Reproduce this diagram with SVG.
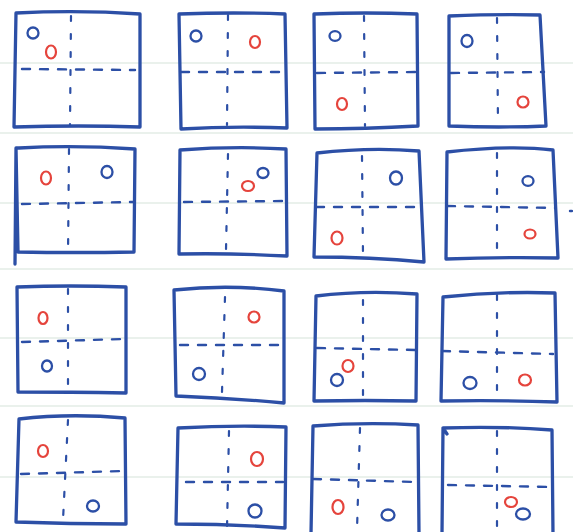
<svg xmlns="http://www.w3.org/2000/svg" width="573" height="532" viewBox="0 0 573 532">
<style>
.rule{stroke:#d6e3da;stroke-width:1.2}
.box{fill:none;stroke:#2c4fa6;stroke-width:3.3;stroke-linecap:round;stroke-linejoin:round}
.dh{fill:none;stroke:#2c4fa6;stroke-width:2.4;stroke-linecap:round;stroke-dasharray:8 10}
.dv{fill:none;stroke:#2c4fa6;stroke-width:2.2;stroke-linecap:round;stroke-dasharray:5 13}
.b{fill:none;stroke:#2c4fa6;stroke-width:2.3}
.r{fill:none;stroke:#e5443c;stroke-width:2.2}
</style>
<rect width="573" height="532" fill="#ffffff"/>
<g id="rules">
<line class="rule" x1="0" y1="63" x2="573" y2="63"/>
<line class="rule" x1="0" y1="133" x2="573" y2="133"/>
<line class="rule" x1="0" y1="203" x2="573" y2="203"/>
<line class="rule" x1="0" y1="269" x2="573" y2="269"/>
<line class="rule" x1="0" y1="338" x2="573" y2="338"/>
<line class="rule" x1="0" y1="406" x2="573" y2="406"/>
<line class="rule" x1="0" y1="477" x2="573" y2="477"/>
</g>
<g id="connectors"></g>

<g id="p1">
<path class="box" d="M16 13 Q80 10 140 14 L140 127 Q80 125 14 127 L16 13 Z"/>
<path class="dh" d="M22 69 L135 70"/>
<path class="dv" d="M71 16 L70 125"/>
<circle class="b" cx="33" cy="33" r="5.5"/>
<ellipse class="r" cx="51" cy="52" rx="5" ry="6.5"/>
</g>
<g id="p2">
<path class="box" d="M179 14 Q235 12 285 14 L287 128 Q232 126 181 129 L179 14 Z"/>
<path class="dh" d="M181 72 L284 72"/>
<path class="dv" d="M228 15 L227 125"/>
<circle class="b" cx="196" cy="36" r="5.5"/>
<ellipse class="r" cx="255" cy="42" rx="5" ry="6"/>
</g>
<g id="p3">
<path class="box" d="M315 14 Q365 12 417 14 L418 126 Q365 129 315 129 L314 14 Z"/>
<path class="dh" d="M317 73 L416 72"/>
<path class="dv" d="M364 16 L365 126"/>
<ellipse class="b" cx="335" cy="36" rx="5.5" ry="4.8"/>
<ellipse class="r" cx="342" cy="104" rx="5" ry="6"/>
</g>
<g id="p4">
<path class="box" d="M449 16 Q500 14 540 15 L546 126 Q500 128 449 126 L449 16 Z"/>
<path class="dh" d="M451 73 L544 72"/>
<path class="dv" d="M497 18 L498 124"/>
<ellipse class="b" cx="467" cy="41" rx="5.5" ry="6"/>
<ellipse class="r" cx="523" cy="102" rx="5.5" ry="5.5"/>
</g>

<g id="p5">
<path class="box" d="M19 148 Q75 145 135 149 L134 252 Q75 253 18 252 L16 148 Z M16 148 L15 264"/>
<path class="dh" d="M22 204 L134 202"/>
<path class="dv" d="M69 149 L68 255"/>
<ellipse class="r" cx="46" cy="178" rx="5" ry="6.5"/>
<ellipse class="b" cx="107" cy="172" rx="5.5" ry="6"/>
</g>
<g id="p6">
<path class="box" d="M180 150 Q235 146 286 149 L287 256 Q232 253 179 254 L180 150 Z"/>
<path class="dh" d="M184 202 L285 201"/>
<path class="dv" d="M228 154 L226 250"/>
<ellipse class="b" cx="263" cy="173" rx="5.5" ry="5"/>
<ellipse class="r" cx="248" cy="186" rx="6" ry="5"/>
</g>
<g id="p7">
<path class="box" d="M317 153 Q370 147 419 151 L424 262 Q370 257 314 257 L317 153 Z"/>
<path class="dh" d="M316 207 L422 207"/>
<path class="dv" d="M362 156 L363 255"/>
<ellipse class="b" cx="396" cy="178" rx="6" ry="6.5"/>
<ellipse class="r" cx="337" cy="238" rx="5.5" ry="6.5"/>
</g>
<g id="p8">
<path class="box" d="M447 152 Q510 145 553 150 L558 258 Q500 257 446 259 L447 152 Z"/>
<path class="dh" d="M447 206 L555 208"/>
<path class="dv" d="M497 153 L497 257"/>
<ellipse class="b" cx="528" cy="181" rx="5.5" ry="4.8"/>
<ellipse class="r" cx="530" cy="234" rx="5.5" ry="4.5"/>
<line class="dh" x1="570" y1="211" x2="572" y2="211"/>
</g>

<g id="p9">
<path class="box" d="M17 287 Q70 285 126 287 L126 393 Q70 392 18 392 L17 287 Z"/>
<path class="dh" d="M22 342 L124 339"/>
<path class="dv" d="M68 289 L68 386"/>
<ellipse class="r" cx="43" cy="318" rx="4.5" ry="6"/>
<ellipse class="b" cx="47" cy="366" rx="5" ry="5.5"/>
</g>
<g id="p10">
<path class="box" d="M174 290 Q230 284 284 291 L284 403 Q230 398 176 396 L174 290 Z"/>
<path class="dh" d="M180 345 L281 345"/>
<path class="dv" d="M225 297 L222 392"/>
<ellipse class="r" cx="254" cy="317" rx="5.5" ry="5.5"/>
<ellipse class="b" cx="199" cy="374" rx="6" ry="6"/>
</g>
<g id="p11">
<path class="box" d="M316 296 Q365 290 417 294 L416 401 Q365 400 314 401 L316 296 Z"/>
<path class="dh" d="M317 348 L416 350"/>
<path class="dv" d="M363 300 L363 400"/>
<ellipse class="r" cx="348" cy="366" rx="5.5" ry="6"/>
<ellipse class="b" cx="337" cy="380" rx="6" ry="6"/>
</g>
<g id="p12">
<path class="box" d="M443 297 Q500 291 555 293 L557 402 Q500 400 441 401 L443 297 Z"/>
<path class="dh" d="M442 351 L553 354"/>
<path class="dv" d="M497 295 L497 400"/>
<ellipse class="b" cx="470" cy="383" rx="6.5" ry="6"/>
<ellipse class="r" cx="525" cy="380" rx="6" ry="5.5"/>
</g>

<g id="p13">
<path class="box" d="M19 419 Q70 413 125 418 L126 524 Q70 524 16 522 L19 419 Z"/>
<path class="dh" d="M21 474 L123 471"/>
<path class="dv" d="M68 420 L63 520"/>
<ellipse class="r" cx="43" cy="451" rx="5" ry="6"/>
<ellipse class="b" cx="93" cy="506" rx="6" ry="5.5"/>
</g>
<g id="p14">
<path class="box" d="M178 428 Q235 425 286 427 L285 528 Q232 524 176 524 L178 428 Z"/>
<path class="dh" d="M186 482 L283 482"/>
<path class="dv" d="M229 431 L227 528"/>
<ellipse class="r" cx="257" cy="459" rx="6" ry="7"/>
<ellipse class="b" cx="255" cy="511" rx="6.5" ry="6.5"/>
</g>
<g id="p15">
<path class="box" d="M313 426 Q365 422 418 425 L419 534 M311 534 L313 426"/>
<path class="dh" d="M313 479 L415 482"/>
<path class="dv" d="M360 428 L357 530"/>
<ellipse class="r" cx="338" cy="507" rx="5.5" ry="7"/>
<ellipse class="b" cx="388" cy="515" rx="6.5" ry="5.5"/>
</g>
<g id="p16">
<path class="box" d="M447 434 L443 428 Q500 426 552 430 L553 534 M442 534 L443 428"/>
<path class="dh" d="M448 485 L553 487"/>
<path class="dv" d="M497 431 L497 530"/>
<ellipse class="r" cx="511" cy="502" rx="6" ry="5"/>
<ellipse class="b" cx="523" cy="514" rx="7" ry="5.5"/>
</g>
</svg>
